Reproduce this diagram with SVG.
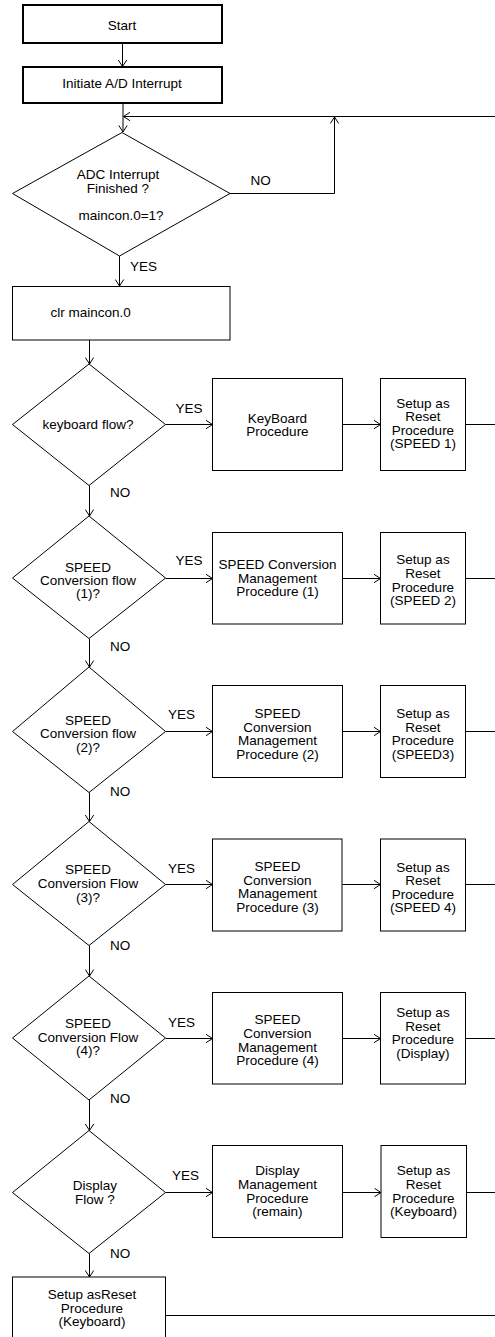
<svg xmlns="http://www.w3.org/2000/svg" width="495" height="1337" viewBox="0 0 495 1337">
<style>
text{font-family:"Liberation Sans",Arial,sans-serif;font-size:13.5px;fill:#000;text-anchor:middle}
.s{text-anchor:start}
.b{fill:#fff;stroke:#000;stroke-width:1}
.t{fill:#fff;stroke:#000;stroke-width:2}
.c{fill:none;stroke:#000;stroke-width:1}
.a{marker-end:url(#arr)}
</style>
<defs>
<marker id="arr" markerUnits="userSpaceOnUse" markerWidth="10" markerHeight="10" viewBox="0 0 10 10" refX="9" refY="5" orient="auto">
<path d="M2.5,0.8 L9,5 L2.5,9.2" fill="none" stroke="#000" stroke-width="1"/>
</marker>
</defs>
<rect width="495" height="1337" fill="#fff"/>

<g id="connectors">
<line class="c a" x1="122.5" y1="43.5" x2="122.5" y2="66.5"/>
<line class="c a" x1="123" y1="103" x2="123" y2="132"/>
<line class="c a" x1="495" y1="116.5" x2="123.5" y2="116.5"/>
<polyline class="c a" points="230,193.5 334.5,193.5 334.5,117"/>
<line class="c a" x1="119.5" y1="256" x2="119.5" y2="286"/>
<line class="c a" x1="89.5" y1="340" x2="89.5" y2="364"/>
<line class="c a" x1="89.5" y1="485.5" x2="89.5" y2="516"/>
<line class="c a" x1="89.5" y1="638.5" x2="89.5" y2="667"/>
<line class="c a" x1="89.5" y1="792.5" x2="89.5" y2="821.5"/>
<line class="c a" x1="89.5" y1="945.5" x2="89.5" y2="976"/>
<line class="c a" x1="89.5" y1="1100" x2="89.5" y2="1130.5"/>
<line class="c a" x1="89.5" y1="1253.5" x2="89.5" y2="1277"/>

<line class="c a" x1="165.5" y1="424.5" x2="212.5" y2="424.5"/>
<line class="c a" x1="342.5" y1="424.5" x2="380.5" y2="424.5"/>
<line class="c" x1="465.5" y1="424.5" x2="495" y2="424.5"/>

<line class="c a" x1="165.5" y1="578.5" x2="212.5" y2="578.5"/>
<line class="c a" x1="342.5" y1="578.5" x2="380.5" y2="578.5"/>
<line class="c" x1="465.5" y1="578.5" x2="495" y2="578.5"/>

<line class="c a" x1="165.5" y1="731.5" x2="212.5" y2="731.5"/>
<line class="c a" x1="342.5" y1="731.5" x2="380.5" y2="731.5"/>
<line class="c" x1="465.5" y1="731.5" x2="495" y2="731.5"/>

<line class="c a" x1="165.5" y1="884.5" x2="212.5" y2="884.5"/>
<line class="c a" x1="342.5" y1="884.5" x2="380.5" y2="884.5"/>
<line class="c" x1="465.5" y1="884.5" x2="495" y2="884.5"/>

<line class="c a" x1="165.5" y1="1038.5" x2="212.5" y2="1038.5"/>
<line class="c a" x1="342.5" y1="1038.5" x2="380.5" y2="1038.5"/>
<line class="c" x1="465.5" y1="1038.5" x2="495" y2="1038.5"/>

<line class="c a" x1="165.5" y1="1192.5" x2="212.5" y2="1192.5"/>
<line class="c a" x1="342.5" y1="1192.5" x2="381" y2="1192.5"/>
<line class="c" x1="466.5" y1="1192.5" x2="495" y2="1192.5"/>

<line class="c" x1="165.5" y1="1315.5" x2="495" y2="1315.5"/>

<text class="s" x="250.5" y="185">NO</text>
<text class="s" x="130" y="271">YES</text>
<text class="s" x="175.5" y="413">YES</text>
<text class="s" x="110" y="497">NO</text>
<text class="s" x="175.5" y="565">YES</text>
<text class="s" x="110" y="651">NO</text>
<text class="s" x="168" y="719">YES</text>
<text class="s" x="110" y="796">NO</text>
<text class="s" x="168" y="872.5">YES</text>
<text class="s" x="110" y="950">NO</text>
<text class="s" x="168" y="1027">YES</text>
<text class="s" x="110" y="1103">NO</text>
<text class="s" x="172" y="1180">YES</text>
<text class="s" x="110" y="1258">NO</text>
</g>

<g id="start">
<rect class="t" x="23" y="5" width="199" height="38"/>
<text x="122" y="30">Start</text>
</g>
<g id="initiate">
<rect class="t" x="23" y="67" width="199" height="36"/>
<text x="122" y="88">Initiate A/D Interrupt</text>
</g>
<g id="adc-finished">
<polygon class="b" points="122,132.5 230,193.5 119.5,256 12.5,193.5"/>
<text x="118" y="179">ADC Interrupt</text>
<text x="118" y="193">Finished ?</text>
<text x="121" y="220">maincon.0=1?</text>
</g>
<g id="clr-maincon">
<rect class="b" x="12.5" y="286.5" width="217.5" height="53.5"/>
<text class="s" x="50.5" y="317">clr maincon.0</text>
</g>

<g id="keyboard-flow">
<polygon class="b" points="89,364 165.5,424.5 89,485.5 12.5,424.5"/>
<text x="88" y="428.5">keyboard flow?</text>
</g>
<g id="keyboard-proc">
<rect class="b" x="212.5" y="378.5" width="130" height="92"/>
<text x="277.5" y="423">KeyBoard</text>
<text x="277.5" y="436">Procedure</text>
</g>
<g id="setup-speed1">
<rect class="b" x="380.5" y="378.5" width="85" height="92"/>
<text x="423" y="407.5">Setup as</text>
<text x="423" y="421">Reset</text>
<text x="423" y="434.5">Procedure</text>
<text x="423" y="448">(SPEED 1)</text>
</g>

<g id="speed1-flow">
<polygon class="b" points="89,516 165.5,578 89,638.5 12.5,578"/>
<text x="88" y="571.5">SPEED</text>
<text x="88" y="585">Conversion flow</text>
<text x="88" y="597.5">(1)?</text>
</g>
<g id="speed1-proc">
<rect class="b" x="212.5" y="532.5" width="130" height="91.5"/>
<text x="277.5" y="569">SPEED Conversion</text>
<text x="277.5" y="582.5">Management</text>
<text x="277.5" y="596">Procedure (1)</text>
</g>
<g id="setup-speed2">
<rect class="b" x="380.5" y="532.5" width="85" height="91.5"/>
<text x="423" y="564">Setup as</text>
<text x="423" y="578">Reset</text>
<text x="423" y="591.5">Procedure</text>
<text x="423" y="605">(SPEED 2)</text>
</g>

<g id="speed2-flow">
<polygon class="b" points="89,667 165.5,731.5 89,792.5 12.5,731.5"/>
<text x="88" y="724.5">SPEED</text>
<text x="88" y="738">Conversion flow</text>
<text x="88" y="751.5">(2)?</text>
</g>
<g id="speed2-proc">
<rect class="b" x="212.5" y="685.5" width="130" height="92"/>
<text x="277.5" y="717.5">SPEED</text>
<text x="277.5" y="731.5">Conversion</text>
<text x="277.5" y="745">Management</text>
<text x="277.5" y="758.5">Procedure (2)</text>
</g>
<g id="setup-speed3">
<rect class="b" x="380.5" y="685.5" width="85" height="92"/>
<text x="423" y="717.5">Setup as</text>
<text x="423" y="731.5">Reset</text>
<text x="423" y="745">Procedure</text>
<text x="423" y="758.5">(SPEED3)</text>
</g>

<g id="speed3-flow">
<polygon class="b" points="89,821.5 165.5,884.5 89,945.5 12.5,884.5"/>
<text x="88" y="874">SPEED</text>
<text x="88" y="888">Conversion Flow</text>
<text x="88" y="901.5">(3)?</text>
</g>
<g id="speed3-proc">
<rect class="b" x="212.5" y="839" width="129.5" height="92"/>
<text x="277.5" y="870.5">SPEED</text>
<text x="277.5" y="884.5">Conversion</text>
<text x="277.5" y="898">Management</text>
<text x="277.5" y="911.5">Procedure (3)</text>
</g>
<g id="setup-speed4">
<rect class="b" x="380.5" y="839" width="85" height="92"/>
<text x="423" y="871.5">Setup as</text>
<text x="423" y="885">Reset</text>
<text x="423" y="898.5">Procedure</text>
<text x="423" y="911.5">(SPEED 4)</text>
</g>

<g id="speed4-flow">
<polygon class="b" points="89,976 165.5,1038 89,1100 12.5,1038"/>
<text x="88" y="1027.5">SPEED</text>
<text x="88" y="1041.5">Conversion Flow</text>
<text x="88" y="1055">(4)?</text>
</g>
<g id="speed4-proc">
<rect class="b" x="212.5" y="992.5" width="130" height="91.5"/>
<text x="277.5" y="1024">SPEED</text>
<text x="277.5" y="1038">Conversion</text>
<text x="277.5" y="1051.5">Management</text>
<text x="277.5" y="1065">Procedure (4)</text>
</g>
<g id="setup-display">
<rect class="b" x="380.5" y="992.5" width="85" height="91.5"/>
<text x="423" y="1017">Setup as</text>
<text x="423" y="1030.5">Reset</text>
<text x="423" y="1044">Procedure</text>
<text x="423" y="1058">(Display)</text>
</g>

<g id="display-flow">
<polygon class="b" points="89,1130.5 165.5,1192.5 89,1253.5 12.5,1192.5"/>
<text x="95" y="1190">Display</text>
<text x="95" y="1204">Flow ?</text>
</g>
<g id="display-proc">
<rect class="b" x="212.5" y="1145.5" width="130" height="92"/>
<text x="277.5" y="1175">Display</text>
<text x="277.5" y="1189">Management</text>
<text x="277.5" y="1202.5">Procedure</text>
<text x="277.5" y="1216">(remain)</text>
</g>
<g id="setup-keyboard">
<rect class="b" x="381" y="1145.5" width="85.5" height="92"/>
<text x="423.5" y="1175">Setup as</text>
<text x="423.5" y="1189">Reset</text>
<text x="423.5" y="1202.5">Procedure</text>
<text x="423.5" y="1216">(Keyboard)</text>
</g>

<g id="setup-keyboard-final">
<rect class="b" x="12.5" y="1277" width="153" height="70"/>
<text x="92" y="1299">Setup asReset</text>
<text x="92" y="1312.5">Procedure</text>
<text x="92" y="1326">(Keyboard)</text>
</g>
</svg>
